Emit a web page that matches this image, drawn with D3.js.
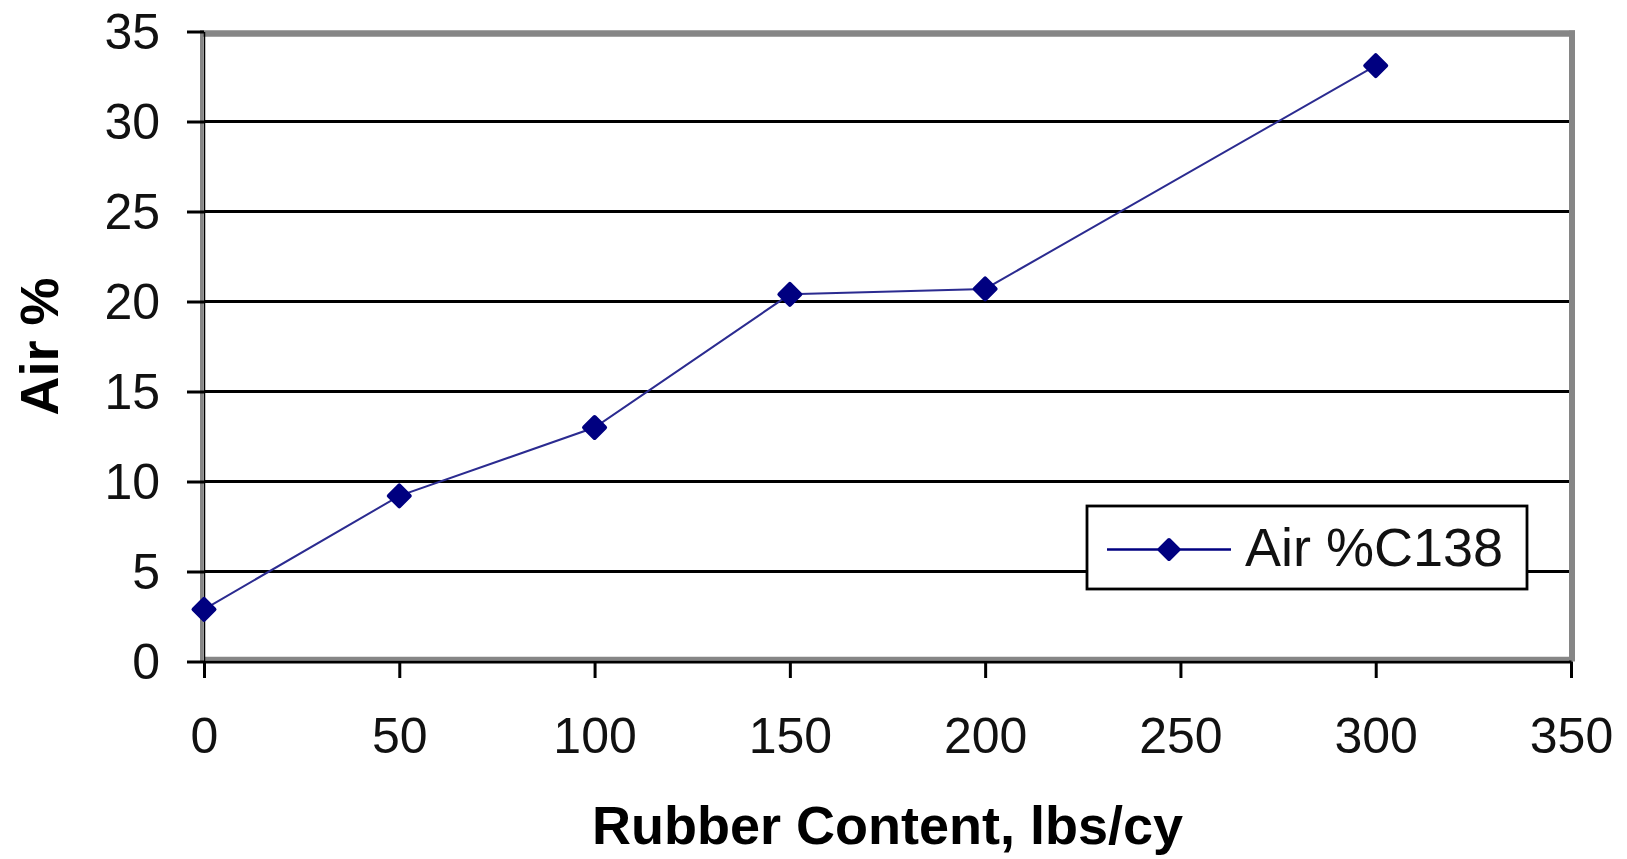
<!DOCTYPE html>
<html>
<head>
<meta charset="utf-8">
<script src="https://cdn.jsdelivr.net/npm/d3@7"></script>
<style>
  html, body { margin: 0; padding: 0; background: #fff; }
  svg { display: block; font-family: "Liberation Sans", Arial, Helvetica, sans-serif; }
</style>
</head>
<body>
<svg id="chart" width="1627" height="859"></svg>
<script>
// data
const rubber = [0, 50, 100, 150, 200, 300];
const airPct = [2.9, 9.2, 13.0, 20.4, 20.7, 33.1];
const xTicks = [0, 50, 100, 150, 200, 250, 300, 350];
const yTicks = [0, 5, 10, 15, 20, 25, 30, 35];
const seriesName = "Air %C138";

const svg = d3.select("#chart");

const x = d3.scaleLinear().domain([0, 350]).range([204, 1571]);
const y = d3.scaleLinear().domain([0, 35]).range([661.5, 31.5]);

const navy = "#000080";
const frame = "#868686";

// gridlines
svg.append("g")
  .selectAll("line")
  .data(yTicks.filter(d => d > 0 && d < 35))
  .enter().append("line")
  .attr("x1", x(0)).attr("x2", x(350) - 2)
  .attr("y1", d => y(d)).attr("y2", d => y(d))
  .attr("stroke", "#000").attr("stroke-width", 3);

// plot frame (grey)
const fr = svg.append("g").attr("stroke", frame).attr("fill", "none");
fr.append("line").attr("x1", x(0) - 4).attr("x2", x(350) + 4)
  .attr("y1", y(35) + 2).attr("y2", y(35) + 2).attr("stroke-width", 6.5);
fr.append("line").attr("x1", x(350) + 1).attr("x2", x(350) + 1)
  .attr("y1", y(35) - 1).attr("y2", y(0)).attr("stroke-width", 6);
fr.append("line").attr("x1", x(0)).attr("x2", x(350) + 4)
  .attr("y1", y(0) - 3).attr("y2", y(0) - 3).attr("stroke-width", 3.5);
fr.append("line").attr("x1", x(0) - 2.3).attr("x2", x(0) - 2.3)
  .attr("y1", y(35) - 1).attr("y2", y(0)).attr("stroke-width", 3.4);

// y axis
const yAxis = svg.append("g")
  .attr("transform", "translate(" + x(0) + ",0)")
  .call(d3.axisLeft(y).tickValues(yTicks).tickSize(17).tickPadding(27).tickSizeOuter(0));
yAxis.select(".domain").attr("stroke", "#000").attr("stroke-width", 1.5);
yAxis.selectAll(".tick line").attr("stroke", "#000").attr("stroke-width", 3);
yAxis.selectAll(".tick text")
  .attr("font-size", 50).attr("fill", "#111")
  .attr("font-family", "Liberation Sans, Arial, sans-serif")
  .attr("dy", "0.34em");

// x axis
const xAxis = svg.append("g")
  .attr("transform", "translate(0," + y(0) + ")")
  .call(d3.axisBottom(x).tickValues(xTicks).tickSize(16.5).tickSizeOuter(0));
xAxis.select(".domain").attr("stroke", "#000").attr("stroke-width", 3);
xAxis.selectAll(".tick line").attr("stroke", "#000").attr("stroke-width", 3);
xAxis.selectAll(".tick text")
  .attr("font-size", 50).attr("fill", "#111")
  .attr("font-family", "Liberation Sans, Arial, sans-serif")
  .attr("y", 91.5).attr("dy", 0);

// data line
const line = d3.line()
  .x((d, i) => x(rubber[i]))
  .y(d => y(d));

svg.append("path")
  .datum(airPct)
  .attr("d", line)
  .attr("fill", "none")
  .attr("stroke", "#2b2b90")
  .attr("stroke-width", 2);

const diamond = r => "M0," + (-r) + "L" + r + ",0L0," + r + "L" + (-r) + ",0Z";

// markers: rounded diamonds
svg.append("g")
  .selectAll("path")
  .data(airPct)
  .enter().append("path")
  .attr("d", diamond(10.5))
  .attr("transform", (d, i) => "translate(" + x(rubber[i]) + "," + y(d) + ")")
  .attr("fill", navy)
  .attr("stroke", navy)
  .attr("stroke-width", 4)
  .attr("stroke-linejoin", "round");

// axis titles
svg.append("text")
  .attr("x", (x(0) + x(350)) / 2)
  .attr("y", 844)
  .attr("text-anchor", "middle")
  .attr("font-size", 54)
  .attr("font-weight", "bold")
  .text("Rubber Content, lbs/cy");

svg.append("text")
  .attr("transform", "translate(58," + ((y(0) + y(35)) / 2) + ") rotate(-90)")
  .attr("text-anchor", "middle")
  .attr("font-size", 54)
  .attr("font-weight", "bold")
  .text("Air %");

// legend
const lg = svg.append("g").attr("transform", "translate(1087,506)");
lg.append("rect")
  .attr("width", 440).attr("height", 83)
  .attr("fill", "#fff").attr("stroke", "#000").attr("stroke-width", 2.8);
lg.append("line")
  .attr("x1", 20).attr("x2", 144).attr("y1", 43.5).attr("y2", 43.5)
  .attr("stroke", navy).attr("stroke-width", 2.5);
lg.append("path")
  .attr("d", diamond(9.5))
  .attr("transform", "translate(82,43.5)")
  .attr("fill", navy).attr("stroke", navy).attr("stroke-width", 4)
  .attr("stroke-linejoin", "round");
lg.append("text")
  .attr("x", 158).attr("y", 60)
  .attr("font-size", 54)
  .attr("fill", "#111")
  .text(seriesName);
</script>
</body>
</html>
